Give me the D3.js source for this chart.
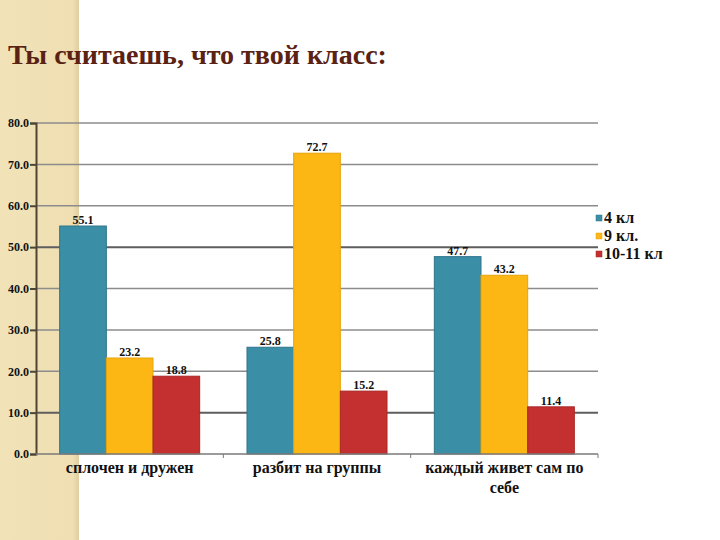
<!DOCTYPE html>
<html><head><meta charset="utf-8">
<script src="https://cdn.jsdelivr.net/npm/d3@7"></script>
<style>html,body{margin:0;padding:0;background:#fff;}svg{display:block;}</style>
</head><body>
<script>
const title = "Ты считаешь, что твой класс:";
const categories = ["сплочен и дружен", "разбит на группы", "каждый живет сам по себе"];
const seriesNames = ["4 кл", "9 кл.", "10-11 кл"];
const values4 = [55.1, 25.8, 47.7];
const values9 = [23.2, 72.7, 43.2];
const values1011 = [18.8, 15.2, 11.4];
const yTicks = [0, 10, 20, 30, 40, 50, 60, 70, 80];
const colors = ["#3a8fa7", "#fcb714", "#c3302f"];
const strokes = ["#2e7489", "#e7a40c", "#a82727"];
const SERIF = "Liberation Serif";

const seriesValues = [values4, values9, values1011];
const W = 720, H = 540;
const svg = d3.select("body").append("svg").attr("width", W).attr("height", H);

const defs = svg.append("defs");
const grad = defs.append("linearGradient").attr("id", "stripe").attr("x1", "0").attr("x2", "1");
grad.append("stop").attr("offset", "0%").attr("stop-color", "#f1e2b8");
grad.append("stop").attr("offset", "92%").attr("stop-color", "#efdfb2");
grad.append("stop").attr("offset", "100%").attr("stop-color", "#dfcd9f");
svg.append("rect").attr("x", 0).attr("y", 0).attr("width", 79).attr("height", H).attr("fill", "url(#stripe)");

svg.append("text").attr("font-family", SERIF).attr("x", 8).attr("y", 64)
  .attr("font-weight", "bold").attr("font-size", 28).attr("fill", "#5a2213")
  .text(title);

const x0 = d3.scaleBand().domain(categories).range([36, 598]).paddingInner(0).paddingOuter(0);
const x1 = d3.scaleBand().domain(d3.range(seriesNames.length)).range([0, 140]);
const y = d3.scaleLinear().domain([0, 80]).range([454, 123]);

// gridlines
svg.append("g").selectAll("line").data(yTicks.filter(d => d > 0)).join("line")
  .attr("x1", 36).attr("x2", 598)
  .attr("y1", d => y(d)).attr("y2", d => y(d))
  .attr("stroke", d => (d === 50 || d === 10) ? "#5e5e5e" : "#8c8c8c")
  .attr("stroke-width", d => (d === 50 || d === 10) ? 2 : 1.5);

// y axis
const yAxis = d3.axisLeft(y).tickValues(yTicks).tickFormat(d3.format(".1f")).tickSize(6).tickPadding(1);
const ya = svg.append("g").attr("transform", "translate(36,0)").call(yAxis);
ya.attr("font-family", SERIF);
ya.select(".domain").attr("stroke", "#4e4534").attr("stroke-width", 2);
ya.selectAll(".tick line").attr("stroke", "#4e4534").attr("stroke-width", 2);
ya.selectAll(".tick text").attr("font-family", SERIF).attr("font-weight", "bold")
  .attr("font-size", 12).attr("fill", "#111");

// bars
const groups = svg.append("g").selectAll("g").data(categories).join("g")
  .attr("transform", d => `translate(${x0(d) + (x0.bandwidth() - 140) / 2},0)`);
groups.selectAll("rect").data((c, ci) => seriesValues.map((vals, si) => ({si, v: vals[ci]}))).join("rect")
  .attr("x", d => x1(d.si)).attr("width", x1.bandwidth())
  .attr("y", d => y(d.v)).attr("height", d => y(0) - y(d.v))
  .attr("fill", d => colors[d.si]).attr("stroke", d => strokes[d.si]).attr("stroke-width", 1);
groups.selectAll("text").data((c, ci) => seriesValues.map((vals, si) => ({si, v: vals[ci]}))).join("text")
  .attr("font-family", SERIF)
  .attr("x", d => x1(d.si) + x1.bandwidth() / 2).attr("y", d => y(d.v) - 2)
  .attr("text-anchor", "middle").attr("font-weight", "bold")
  .attr("font-size", 12).attr("fill", "#111")
  .text(d => d3.format(".1f")(d.v));

// x axis
const xa = svg.append("g").attr("transform", "translate(0,454)");
xa.append("line").attr("x1", 36).attr("x2", 598).attr("y1", 0).attr("y2", 0)
  .attr("stroke", "#7a7a7a").attr("stroke-width", 1.5);
xa.selectAll("line.t").data(categories).join("line").attr("class", "t")
  .attr("x1", d => x0(d) + x0.bandwidth()).attr("x2", d => x0(d) + x0.bandwidth())
  .attr("y1", 0).attr("y2", 4).attr("stroke", "#7a7a7a").attr("stroke-width", 1);

// category labels with wrapping
const labels = xa.selectAll("text.c").data(categories).join("text").attr("class", "c")
  .attr("font-family", SERIF)
  .attr("text-anchor", "middle").attr("font-weight", "bold")
  .attr("font-size", 16).attr("fill", "#111")
  .attr("transform", d => `translate(${x0(d) + x0.bandwidth() / 2},19)`);
labels.each(function(d) {
  const t = d3.select(this);
  const words = d.split(" ");
  let line = [];
  let ts = t.append("tspan").attr("x", 0).attr("dy", 0);
  for (const w of words) {
    line.push(w);
    ts.text(line.join(" "));
    if (ts.node().getComputedTextLength() > 172 && line.length > 1) {
      line.pop();
      ts.text(line.join(" "));
      line = [w];
      ts = t.append("tspan").attr("x", 0).attr("dy", 20).text(w);
    }
  }
});

// legend
const lg = svg.append("g").selectAll("g").data(seriesNames).join("g")
  .attr("transform", (d, i) => `translate(596,${218 + i * 18})`);
lg.append("rect").attr("x", 0).attr("y", -3).attr("width", 6).attr("height", 6)
  .attr("fill", (d, i) => colors[i]).attr("stroke", (d, i) => strokes[i]).attr("stroke-width", 0.5);
lg.append("text").attr("font-family", SERIF).attr("x", 8).attr("y", 5).attr("font-weight", "bold")
  .attr("font-size", 16).attr("fill", "#111").text(d => d);
</script>
</body></html>
